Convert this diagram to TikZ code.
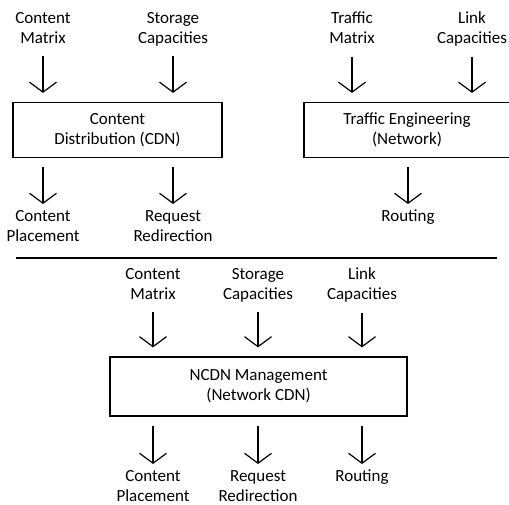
\documentclass[tikz,border=0pt]{standalone}
\usepackage{fontspec}
\setmainfont{Carlito}
\usepackage{tikz}
\usetikzlibrary{positioning, arrows.meta}

\tikzset{
    term/.style={align=center, inner sep=0pt, font=\fontsize{17}{20}\selectfont},
    interm/.style={term},
    outterm/.style={term, anchor=north},
    block/.style={draw, line width=1.2pt, inner sep=0pt, align=center,
        font=\fontsize{17}{20}\selectfont},
    inflow/.style={-{Straight Barb[length=10pt, width=27pt]}, line width=1.2pt,
        shorten <=7pt, shorten >=9pt},
    outflow/.style={-{Straight Barb[length=10pt, width=27pt]}, line width=1.2pt,
        shorten <=9pt, shorten >=6pt}
}

\begin{document}
\begin{tikzpicture}[x=1pt, y=-1pt]
    \useasboundingbox (0,0) rectangle (509,504);
    \clip (0,0) rectangle (509,504);

    % CDN alone
    \node[interm] (cm) at (43,30.5) {Content\\Matrix\strut};
    \node[interm] (sc) at (173,30.5) {Storage\\Capacities\strut};
    \node[block, minimum width=209pt, minimum height=55pt] (cdn) at (117.5,130)
        {Content\\Distribution (CDN)};
    \node[outterm] (cp) at (43,210) {Content\\Placement};
    \node[outterm] (rr) at (173,210) {Request\\Redirection};

    \draw[inflow] (cm) -- (cm |- cdn.north);
    \draw[inflow] (sc) -- (sc |- cdn.north);
    \draw[outflow] (cdn.south -| cp) -- (cp);
    \draw[outflow] (cdn.south -| rr) -- (rr);

    % network alone
    \node[interm] (tm) at (352,30.5) {Traffic\\Matrix\strut};
    \node[interm] (lc) at (472,30.5) {Link\\Capacities\strut};
    \node[block, minimum width=206pt, minimum height=55pt] (te) at (407,130)
        {Traffic Engineering\\(Network)};
    \node[outterm] (rt) at (408,210) {Routing};

    \draw[inflow] (tm) -- (tm |- te.north);
    \draw[inflow] (lc) -- (lc |- te.north);
    \draw[outflow] (te.south -| rt) -- (rt);

    \draw[line width=1.2pt] (16,258) -- (497,258);

    % joint management
    \node[interm] (cm2) at (153,286.5) {Content\\Matrix\strut};
    \node[interm] (sc2) at (258,286.5) {Storage\\Capacities\strut};
    \node[interm] (lc2) at (362,286.5) {Link\\Capacities\strut};
    \node[block, minimum width=297pt, minimum height=59pt] (ncdn) at (258.5,386.5)
        {NCDN Management\\(Network CDN)};
    \node[outterm] (cp2) at (153,470) {Content\\Placement};
    \node[outterm] (rr2) at (258,470) {Request\\Redirection};
    \node[outterm] (rt2) at (362,470) {Routing};

    \draw[inflow] (cm2) -- (cm2 |- ncdn.north);
    \draw[inflow] (sc2) -- (sc2 |- ncdn.north);
    \draw[inflow] (lc2) -- (lc2 |- ncdn.north);
    \draw[outflow] (ncdn.south -| cp2) -- (cp2);
    \draw[outflow] (ncdn.south -| rr2) -- (rr2);
    \draw[outflow] (ncdn.south -| rt2) -- (rt2);
\end{tikzpicture}
\end{document}
